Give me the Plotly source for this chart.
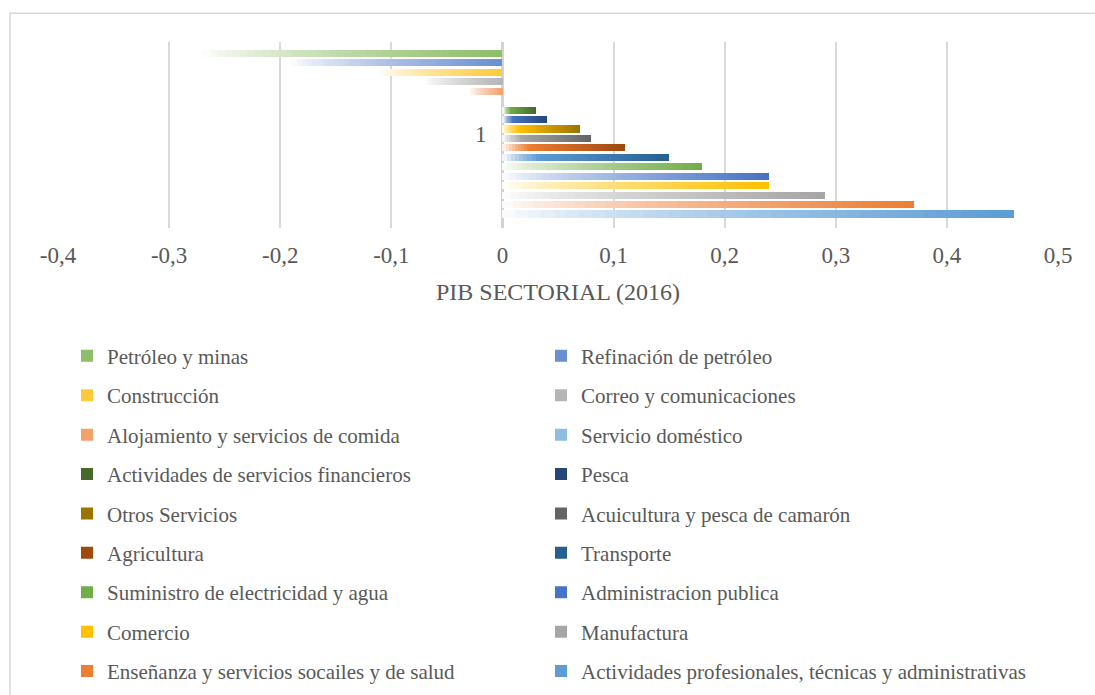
import plotly.graph_objects as go

# ---- data ----
category = "1"
series_names = [
    "Petróleo y minas", "Refinación de petróleo",
    "Construcción", "Correo y comunicaciones",
    "Alojamiento y servicios de comida", "Servicio doméstico",
    "Actividades de servicios financieros", "Pesca",
    "Otros Servicios", "Acuicultura y pesca de camarón",
    "Agricultura", "Transporte",
    "Suministro de electricidad y agua", "Administracion publica",
    "Comercio", "Manufactura",
    "Enseñanza y servicios socailes y de salud",
    "Actividades profesionales, técnicas y administrativas",
]
series_values = [-0.27, -0.19, -0.11, -0.07, -0.03, 0.0, 0.03, 0.04, 0.07,
                 0.08, 0.11, 0.15, 0.18, 0.24, 0.24, 0.29, 0.37, 0.46]
end_colors = ["#8CBD68", "#6A8FD2", "#FFC936", "#B4B4B4", "#F3A06A", "#8DBBE3",
              "#43682B", "#264478", "#997300", "#636363", "#9E480E", "#255E91",
              "#70AD47", "#4472C4", "#FFC000", "#A5A5A5", "#ED7D31", "#5B9BD5"]
mid_colors = [None, None, None, None, None, None,
              "#70AD47", "#4472C4", "#FFC000", "#A5A5A5", "#ED7D31", "#5B9BD5",
              None, None, None, None, None, None]
tick_values = [-0.4, -0.3, -0.2, -0.1, 0, 0.1, 0.2, 0.3, 0.4, 0.5]
tick_labels = ["-0,4", "-0,3", "-0,2", "-0,1", "0", "0,1", "0,2", "0,3", "0,4", "0,5"]
x_title = "PIB SECTORIAL (2016)"

# ---- style ----
FONT = "Liberation Serif"
TXT = "#595959"
N_SEG = 40
x_min, x_max = -0.4, 0.5


def hex2rgb(h):
    h = h.lstrip("#")
    return [int(h[i:i + 2], 16) for i in (0, 2, 4)]


def mix(c1, c2, s):
    return [c1[k] + (c2[k] - c1[k]) * s for k in range(3)]


def grad_color(t, end, mid):
    white = [255, 255, 255]
    e = hex2rgb(end)
    if mid is None:
        c = mix(white, e, t ** 0.75)
    else:
        m = hex2rgb(mid)
        if t < 0.22:
            c = mix(white, m, (t / 0.22) ** 0.8)
        else:
            c = mix(m, e, (t - 0.22) / 0.78)
    return "rgb(%d,%d,%d)" % tuple(int(round(v)) for v in c)


fig = go.Figure()
n = len(series_names)
for k, (name, v) in enumerate(zip(series_names, series_values)):
    bases, widths, cols = [], [], []
    for i in range(N_SEG):
        bases.append(v * i / N_SEG)
        widths.append(v / N_SEG)
        frac = (i + 0.5) / N_SEG
        t = frac if v >= 0 else 1 - frac
        cols.append(grad_color(t, end_colors[k], mid_colors[k]))
    order = list(range(N_SEG))
    if v >= 0:
        order = order[::-1]
    fig.add_trace(go.Bar(
        y=[k] * N_SEG,
        x=[widths[i] for i in order],
        base=[bases[i] for i in order],
        orientation="h",
        width=0.75,
        marker=dict(color=[cols[i] for i in order], line=dict(width=0)),
        name=name,
        legendgroup=name,
        legend="legend" if k % 2 == 0 else "legend2",
        hovertemplate=name + ": %{customdata}<extra></extra>",
        customdata=[v] * N_SEG,
    ))

leg_common = dict(
    font=dict(family=FONT, size=21, color=TXT),
    bgcolor="rgba(0,0,0,0)",
    tracegroupgap=9.1,
    yanchor="top",
    xanchor="left",
    orientation="v",
    maxheight=2000,
)

fig.update_layout(
    width=1095, height=695,
    margin=dict(l=58, r=37, t=42, b=467, autoexpand=False),
    paper_bgcolor="white",
    plot_bgcolor="white",
    barmode="overlay",
    bargap=0,
    showlegend=True,
    legend=dict(x=0.009, y=-0.579, **leg_common),
    legend2=dict(x=0.483, y=-0.579, **leg_common),
    xaxis=dict(
        range=[x_min, x_max],
        tickvals=tick_values,
        ticktext=tick_labels,
        showgrid=True,
        gridcolor="#D9D9D9",
        gridwidth=2,
        zeroline=True,
        zerolinecolor="#D3D3D3",
        zerolinewidth=3,
        showline=False,
        ticks="",
        ticklabelstandoff=11,
        tickfont=dict(family=FONT, size=23, color=TXT),
        title=dict(text=x_title, font=dict(family=FONT, size=24, color=TXT), standoff=16),
    ),
    yaxis=dict(
        range=[n + 0.48, -1.2],
        tickvals=[(n - 1) / 2],
        ticktext=[category],
        showgrid=False,
        zeroline=False,
        showline=False,
        ticks="",
        anchor="free",
        position=(0 - x_min) / (x_max - x_min),
        ticklabelstandoff=16,
        tickfont=dict(family=FONT, size=23, color=TXT),
    ),
    shapes=[dict(type="rect", xref="paper", yref="paper",
                 x0=-0.048, x1=1.2, y0=-3, y1=1.155,
                 line=dict(color="#D9D9D9", width=1.5), fillcolor="rgba(0,0,0,0)",
                 layer="below")],
)

fig.write_html("out.html", config={"displayModeBar": False},
               post_script="document.body.style.margin='0';")
